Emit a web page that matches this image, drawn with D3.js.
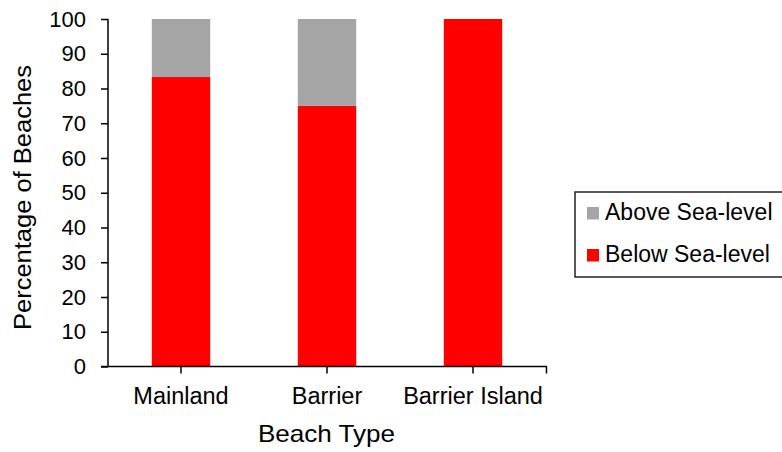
<!DOCTYPE html>
<html><head><meta charset="utf-8">
<script src="https://cdn.jsdelivr.net/npm/d3@7"></script>
<style>body{margin:0;background:#fff}svg{display:block}text{font-family:"Liberation Sans",Arial,sans-serif;fill:#000}</style>
</head><body>
<svg id="c" width="782" height="452"></svg>
<script>
const categories = ["Mainland", "Barrier", "Barrier Island"];
const belowSeaLevel = [83.3, 75, 100];
const aboveSeaLevel = [16.7, 25, 0];
const seriesNames = ["Below Sea-level", "Above Sea-level"];
const seriesColors = ["#FF0000", "#A5A5A5"];
const yTicks = [0, 10, 20, 30, 40, 50, 60, 70, 80, 90, 100];

const svg = d3.select("#c");
const L = 108, R = 546, T = 19, B = 366.5;
const x = d3.scaleBand().domain(categories).range([L, R]).paddingInner(0.6).paddingOuter(0.3);
const y = d3.scaleLinear().domain([0, 100]).range([B, T]);

const rows = categories.map((c, i) => ({cat: c, below: belowSeaLevel[i], above: aboveSeaLevel[i]}));
const stack = d3.stack().keys(["below", "above"])(rows);

svg.append("g").selectAll("g").data(stack).join("g")
  .attr("fill", (d, i) => seriesColors[i])
  .selectAll("rect").data(d => d).join("rect")
  .attr("x", d => x(d.data.cat))
  .attr("width", x.bandwidth())
  .attr("y", d => y(d[1]))
  .attr("height", d => y(d[0]) - y(d[1]));

// Y axis
const ya = svg.append("g").attr("transform", `translate(${L},0)`)
  .call(d3.axisLeft(y).tickValues(yTicks).tickSize(7).tickPadding(15));
ya.select(".domain").attr("stroke", "#000").attr("stroke-width", 1.5).attr("d", `M0,${T}V${B}`);
ya.selectAll(".tick line").attr("stroke", "#000").attr("stroke-width", 1.5);
ya.selectAll(".tick text").attr("font-size", 22).attr("font-family", "Liberation Sans, Arial, sans-serif").attr("fill", "#000");

// X axis
const xa = svg.append("g").attr("transform", `translate(0,${B})`)
  .call(d3.axisBottom(x).tickSize(7).tickPadding(14));
xa.select(".domain").attr("stroke", "#000").attr("stroke-width", 1.5).attr("d", `M${L - 7},0H${R + 1}`);
xa.selectAll(".tick line").attr("stroke", "#000").attr("stroke-width", 1.5);
xa.selectAll(".tick text").attr("font-size", 23.5).attr("font-family", "Liberation Sans, Arial, sans-serif").attr("fill", "#000");
xa.append("line").attr("x1", R + 0.5).attr("x2", R + 0.5).attr("y1", 0).attr("y2", 7).attr("stroke", "#000").attr("stroke-width", 1.5);

// Axis titles
svg.append("text").attr("x", 326.5).attr("y", 442).attr("text-anchor", "middle")
  .attr("font-size", 24).attr("textLength", 137).attr("lengthAdjust", "spacingAndGlyphs").text("Beach Type");
svg.append("text").attr("transform", `translate(31,197.5) rotate(-90)`)
  .attr("text-anchor", "middle").attr("font-size", 23.5).attr("textLength", 265).attr("lengthAdjust", "spacingAndGlyphs")
  .text("Percentage of Beaches");

// Legend
const lg = svg.append("g");
lg.append("rect").attr("x", 575).attr("y", 192).attr("width", 220).attr("height", 85)
  .attr("fill", "#fff").attr("stroke", "#222").attr("stroke-width", 1.5);
const legendItems = [{name: seriesNames[1], color: seriesColors[1]}, {name: seriesNames[0], color: seriesColors[0]}];
legendItems.forEach((d, i) => {
  const base = 220 + i * 42;
  lg.append("rect").attr("x", 587).attr("y", base - 13).attr("width", 12).attr("height", 12.5).attr("fill", d.color);
  lg.append("text").attr("x", 605).attr("y", base).attr("font-size", 23).text(d.name);
});
</script>
</body></html>
